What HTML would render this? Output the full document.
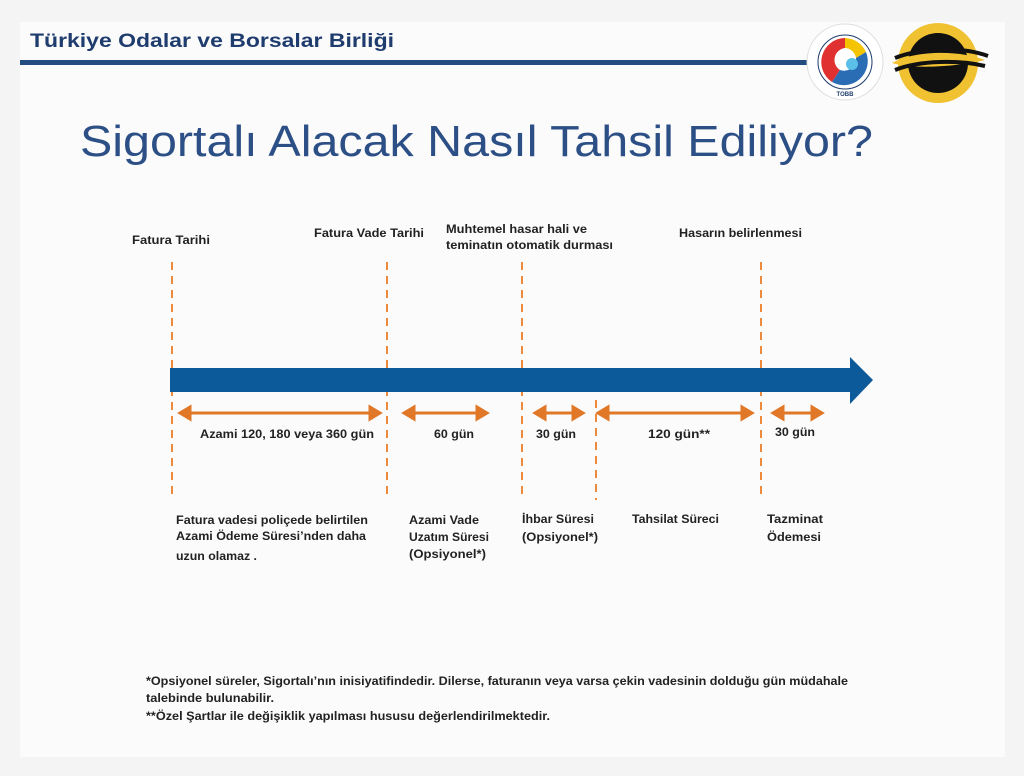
<!DOCTYPE html>
<html><head><meta charset="utf-8"><style>
html,body{margin:0;padding:0;background:#f7f7f7;}
svg{display:block;}
text{font-family:"Liberation Sans",sans-serif;}
</style></head><body>
<svg width="1024" height="776" viewBox="0 0 1024 776">
<rect x="0" y="0" width="1024" height="776" fill="#f4f4f4"/>
<rect x="20" y="22" width="985" height="735" fill="#fbfbfb"/>
<text x="30" y="47" font-size="19" font-weight="bold" fill="#1f3c6e" textLength="364" lengthAdjust="spacingAndGlyphs">Türkiye Odalar ve Borsalar Birliği</text>
<rect x="20" y="60" width="800" height="5" fill="#234c80"/>
<!-- TOBB logo -->
<circle cx="845" cy="62" r="38" fill="#fff" stroke="#ddd"/>
<circle cx="845" cy="62" r="27" fill="#fff" stroke="#1f3c6e" stroke-width="1"/>
<path d="M845 38 A24 24 0 0 0 832 82 L840 70 A12 12 0 0 1 845 48 Z" fill="#e03030"/>
<path d="M845 38 A24 24 0 0 1 866 52 L856 58 A12 12 0 0 0 845 48 Z" fill="#f5c400"/>
<path d="M866 52 A24 24 0 0 1 832 82 L840 70 A12 12 0 0 0 856 58 Z" fill="#2a6db5"/>
<circle cx="852" cy="64" r="6" fill="#5bc0e8"/>
<text x="845" y="96" font-size="6" text-anchor="middle" fill="#1f3c6e" font-weight="bold">TOBB</text>
<!-- Orhangazi logo -->
<circle cx="938" cy="63" r="40" fill="#f0c232"/>
<circle cx="938" cy="63" r="30" fill="#111"/>
<path d="M892 63 C915 50,960 50,985 60 C960 66,915 70,892 63 Z" fill="#f0c232"/>
<path d="M895 58 C920 48,960 46,988 56" stroke="#111" stroke-width="4" fill="none"/>
<path d="M895 70 C920 60,960 60,985 66" stroke="#111" stroke-width="4" fill="none"/>
<text x="80" y="156" font-size="44" fill="#2c4f86" textLength="793" lengthAdjust="spacingAndGlyphs">Sigortalı Alacak Nasıl Tahsil Ediliyor?</text>
<g font-size="12" font-weight="bold" fill="#222">
<text x="132" y="244" textLength="78" lengthAdjust="spacingAndGlyphs">Fatura Tarihi</text>
<text x="314" y="237" textLength="110" lengthAdjust="spacingAndGlyphs">Fatura Vade Tarihi</text>
<text x="446" y="233" textLength="141" lengthAdjust="spacingAndGlyphs">Muhtemel hasar hali ve</text>
<text x="446" y="249" textLength="167" lengthAdjust="spacingAndGlyphs">teminatın otomatik durması</text>
<text x="679" y="237" textLength="123" lengthAdjust="spacingAndGlyphs">Hasarın belirlenmesi</text>
</g>
<g stroke="#ee8a3c" stroke-width="2" stroke-dasharray="8,6">
<line x1="172" y1="262" x2="172" y2="500"/>
<line x1="387" y1="262" x2="387" y2="500"/>
<line x1="522" y1="262" x2="522" y2="500"/>
<line x1="596" y1="400" x2="596" y2="500"/>
<line x1="761" y1="262" x2="761" y2="500"/>
</g>
<rect x="170" y="368" width="682" height="24" fill="#0c5a9a"/>
<polygon points="850,357 873,380 850,404" fill="#0c5a9a"/>
<g stroke="#e07828" stroke-width="3" fill="#e07828">
<line x1="186" y1="413" x2="374" y2="413"/><polygon points="180,413 190,407 190,419"/><polygon points="380,413 370,407 370,419"/>
<line x1="410" y1="413" x2="481" y2="413"/><polygon points="404,413 414,407 414,419"/><polygon points="487,413 477,407 477,419"/>
<line x1="541" y1="413" x2="577" y2="413"/><polygon points="535,413 545,407 545,419"/><polygon points="583,413 573,407 573,419"/>
<line x1="604" y1="413" x2="746" y2="413"/><polygon points="598,413 608,407 608,419"/><polygon points="752,413 742,407 742,419"/>
<line x1="779" y1="413" x2="816" y2="413"/><polygon points="773,413 783,407 783,419"/><polygon points="822,413 812,407 812,419"/>
</g>
<g font-size="12" font-weight="bold" fill="#222">
<text x="200" y="438" textLength="174" lengthAdjust="spacingAndGlyphs">Azami 120, 180 veya 360 gün</text>
<text x="434" y="438" textLength="40" lengthAdjust="spacingAndGlyphs">60 gün</text>
<text x="536" y="438" textLength="40" lengthAdjust="spacingAndGlyphs">30 gün</text>
<text x="648" y="438" textLength="62" lengthAdjust="spacingAndGlyphs">120 gün**</text>
<text x="775" y="436" textLength="40" lengthAdjust="spacingAndGlyphs">30 gün</text>
<text x="176" y="524" textLength="192" lengthAdjust="spacingAndGlyphs">Fatura vadesi poliçede belirtilen</text>
<text x="176" y="540" textLength="190" lengthAdjust="spacingAndGlyphs">Azami Ödeme Süresi’nden daha</text>
<text x="176" y="560" textLength="81" lengthAdjust="spacingAndGlyphs">uzun olamaz .</text>
<text x="409" y="524" textLength="70" lengthAdjust="spacingAndGlyphs">Azami Vade</text>
<text x="409" y="541" textLength="80" lengthAdjust="spacingAndGlyphs">Uzatım Süresi</text>
<text x="409" y="558" textLength="77" lengthAdjust="spacingAndGlyphs">(Opsiyonel*)</text>
<text x="522" y="523" textLength="72" lengthAdjust="spacingAndGlyphs">İhbar Süresi</text>
<text x="522" y="541" textLength="76" lengthAdjust="spacingAndGlyphs">(Opsiyonel*)</text>
<text x="632" y="523" textLength="87" lengthAdjust="spacingAndGlyphs">Tahsilat Süreci</text>
<text x="767" y="523" textLength="56" lengthAdjust="spacingAndGlyphs">Tazminat</text>
<text x="767" y="541" textLength="54" lengthAdjust="spacingAndGlyphs">Ödemesi</text>
<text x="146" y="685" textLength="702" lengthAdjust="spacingAndGlyphs">*Opsiyonel süreler, Sigortalı’nın inisiyatifindedir. Dilerse, faturanın veya varsa çekin vadesinin dolduğu gün müdahale</text>
<text x="146" y="702" textLength="128" lengthAdjust="spacingAndGlyphs">talebinde bulunabilir.</text>
<text x="146" y="720" textLength="404" lengthAdjust="spacingAndGlyphs">**Özel Şartlar ile değişiklik yapılması hususu değerlendirilmektedir.</text>
</g>
</svg>
</body></html>
